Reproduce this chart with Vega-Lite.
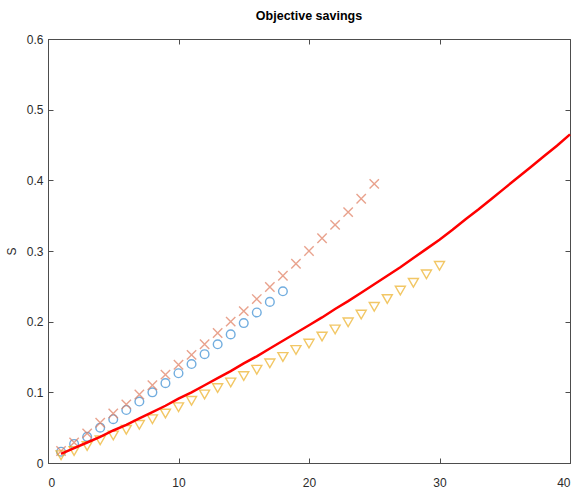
{
  "$schema": "https://vega.github.io/schema/vega-lite/v6.json",
  "width": 522,
  "height": 424,
  "autosize": {"type": "none"},
  "padding": {"left": 48, "top": 39, "right": 6, "bottom": 29},
  "background": "white",
  "title": {"text": "Objective savings", "fontSize": 12.5, "fontWeight": "bold", "font": "Liberation Sans", "color": "#000000", "offset": 11},
  "config": {
    "view": {"stroke": "#4d4d4d", "strokeWidth": 1},
    "axis": {"grid": false, "domainColor": "#4d4d4d", "tickColor": "#4d4d4d", "labelFont": "Liberation Sans", "labelFontSize": 12, "labelColor": "#2b2b2b", "titleFont": "Liberation Sans", "titleFontSize": 12, "titleColor": "#2b2b2b", "titleFontWeight": "normal", "tickSize": -5}
  },
  "datasets": {
    "pts": [
      {"series": "circ", "x": 1, "y": 0.016}, {"series": "circ", "x": 2, "y": 0.027}, {"series": "circ", "x": 3, "y": 0.037}, {"series": "circ", "x": 4, "y": 0.050}, {"series": "circ", "x": 5, "y": 0.062}, {"series": "circ", "x": 6, "y": 0.075}, {"series": "circ", "x": 7, "y": 0.087}, {"series": "circ", "x": 8, "y": 0.100}, {"series": "circ", "x": 9, "y": 0.113}, {"series": "circ", "x": 10, "y": 0.127}, {"series": "circ", "x": 11, "y": 0.140}, {"series": "circ", "x": 12, "y": 0.154}, {"series": "circ", "x": 13, "y": 0.168}, {"series": "circ", "x": 14, "y": 0.182}, {"series": "circ", "x": 15, "y": 0.198}, {"series": "circ", "x": 16, "y": 0.213}, {"series": "circ", "x": 17, "y": 0.228}, {"series": "circ", "x": 18, "y": 0.243},
      {"series": "cross", "x": 1, "y": 0.017}, {"series": "cross", "x": 2, "y": 0.029}, {"series": "cross", "x": 3, "y": 0.042}, {"series": "cross", "x": 4, "y": 0.057}, {"series": "cross", "x": 5, "y": 0.070}, {"series": "cross", "x": 6, "y": 0.083}, {"series": "cross", "x": 7, "y": 0.097}, {"series": "cross", "x": 8, "y": 0.110}, {"series": "cross", "x": 9, "y": 0.125}, {"series": "cross", "x": 10, "y": 0.139}, {"series": "cross", "x": 11, "y": 0.153}, {"series": "cross", "x": 12, "y": 0.168}, {"series": "cross", "x": 13, "y": 0.184}, {"series": "cross", "x": 14, "y": 0.200}, {"series": "cross", "x": 15, "y": 0.215}, {"series": "cross", "x": 16, "y": 0.232}, {"series": "cross", "x": 17, "y": 0.249}, {"series": "cross", "x": 18, "y": 0.265}, {"series": "cross", "x": 19, "y": 0.282}, {"series": "cross", "x": 20, "y": 0.300}, {"series": "cross", "x": 21, "y": 0.318}, {"series": "cross", "x": 22, "y": 0.337}, {"series": "cross", "x": 23, "y": 0.355}, {"series": "cross", "x": 24, "y": 0.374}, {"series": "cross", "x": 25, "y": 0.395},
      {"series": "tri", "x": 1, "y": 0.011}, {"series": "tri", "x": 2, "y": 0.017}, {"series": "tri", "x": 3, "y": 0.024}, {"series": "tri", "x": 4, "y": 0.032}, {"series": "tri", "x": 5, "y": 0.039}, {"series": "tri", "x": 6, "y": 0.047}, {"series": "tri", "x": 7, "y": 0.054}, {"series": "tri", "x": 8, "y": 0.062}, {"series": "tri", "x": 9, "y": 0.070}, {"series": "tri", "x": 10, "y": 0.079}, {"series": "tri", "x": 11, "y": 0.088}, {"series": "tri", "x": 12, "y": 0.097}, {"series": "tri", "x": 13, "y": 0.106}, {"series": "tri", "x": 14, "y": 0.114}, {"series": "tri", "x": 15, "y": 0.123}, {"series": "tri", "x": 16, "y": 0.132}, {"series": "tri", "x": 17, "y": 0.141}, {"series": "tri", "x": 18, "y": 0.150}, {"series": "tri", "x": 19, "y": 0.160}, {"series": "tri", "x": 20, "y": 0.169}, {"series": "tri", "x": 21, "y": 0.179}, {"series": "tri", "x": 22, "y": 0.189}, {"series": "tri", "x": 23, "y": 0.199}, {"series": "tri", "x": 24, "y": 0.210}, {"series": "tri", "x": 25, "y": 0.221}, {"series": "tri", "x": 26, "y": 0.232}, {"series": "tri", "x": 27, "y": 0.244}, {"series": "tri", "x": 28, "y": 0.255}, {"series": "tri", "x": 29, "y": 0.267}, {"series": "tri", "x": 30, "y": 0.279}
    ],
    "fit": [
      {"x": 1, "y": 0.013}, {"x": 2, "y": 0.021}, {"x": 3, "y": 0.029}, {"x": 4, "y": 0.037}, {"x": 5, "y": 0.046}, {"x": 6, "y": 0.054}, {"x": 7, "y": 0.063}, {"x": 8, "y": 0.072}, {"x": 9, "y": 0.081}, {"x": 10, "y": 0.091}, {"x": 11, "y": 0.100}, {"x": 12, "y": 0.110}, {"x": 13, "y": 0.120}, {"x": 14, "y": 0.130}, {"x": 15, "y": 0.141}, {"x": 16, "y": 0.151}, {"x": 17, "y": 0.162}, {"x": 18, "y": 0.173}, {"x": 19, "y": 0.184}, {"x": 20, "y": 0.195}, {"x": 21, "y": 0.206}, {"x": 22, "y": 0.218}, {"x": 23, "y": 0.229}, {"x": 24, "y": 0.241}, {"x": 25, "y": 0.253}, {"x": 26, "y": 0.265}, {"x": 27, "y": 0.277}, {"x": 28, "y": 0.290}, {"x": 29, "y": 0.303}, {"x": 30, "y": 0.316}, {"x": 31, "y": 0.330}, {"x": 32, "y": 0.345}, {"x": 33, "y": 0.359}, {"x": 34, "y": 0.374}, {"x": 35, "y": 0.389}, {"x": 36, "y": 0.404}, {"x": 37, "y": 0.419}, {"x": 38, "y": 0.434}, {"x": 39, "y": 0.449}, {"x": 40, "y": 0.465}
    ]
  },
  "resolve": {"axis": {"x": "independent", "y": "independent"}},
  "layer": [
    {
      "data": {"name": "pts"},
      "mark": {"type": "point", "filled": false, "strokeWidth": 1.4},
      "encoding": {
        "x": {"field": "x", "type": "quantitative", "scale": {"domain": [0, 40], "nice": false}, "axis": {"values": [0, 10, 20, 30, 40], "title": "λ", "labelPadding": 19, "titlePadding": 4}},
        "y": {"field": "y", "type": "quantitative", "scale": {"domain": [0, 0.6], "nice": false}, "axis": {"values": [0, 0.1, 0.2, 0.3, 0.4, 0.5, 0.6], "format": "~g", "title": "S", "labelPadding": 10, "titlePadding": 8}},
        "shape": {"field": "series", "type": "nominal", "scale": {"domain": ["circ", "cross", "tri"], "range": ["circle", "M-1,-1L1,1M-1,1L1,-1", "triangle-down"]}, "legend": null},
        "color": {"field": "series", "type": "nominal", "scale": {"domain": ["circ", "cross", "tri"], "range": ["#368bd2", "#e07c5e", "#edb024"]}, "legend": null},
        "size": {"field": "series", "type": "nominal", "scale": {"domain": ["circ", "cross", "tri"], "range": [75, 100, 75]}, "legend": null}
      }
    },
    {
      "data": {"name": "fit"},
      "mark": {"type": "line", "color": "#ff0000", "strokeWidth": 2.5},
      "encoding": {
        "x": {"field": "x", "type": "quantitative", "axis": null},
        "y": {"field": "y", "type": "quantitative", "axis": null}
      }
    },
    {
      "data": {"name": "fit"},
      "mark": {"type": "point", "opacity": 0},
      "encoding": {
        "x": {"field": "x", "type": "quantitative", "axis": {"orient": "top", "values": [0, 10, 20, 30, 40], "labels": false, "title": null, "domain": false}},
        "y": {"field": "y", "type": "quantitative", "axis": {"orient": "right", "values": [0, 0.1, 0.2, 0.3, 0.4, 0.5, 0.6], "labels": false, "title": null, "domain": false}}
      }
    }
  ]
}
